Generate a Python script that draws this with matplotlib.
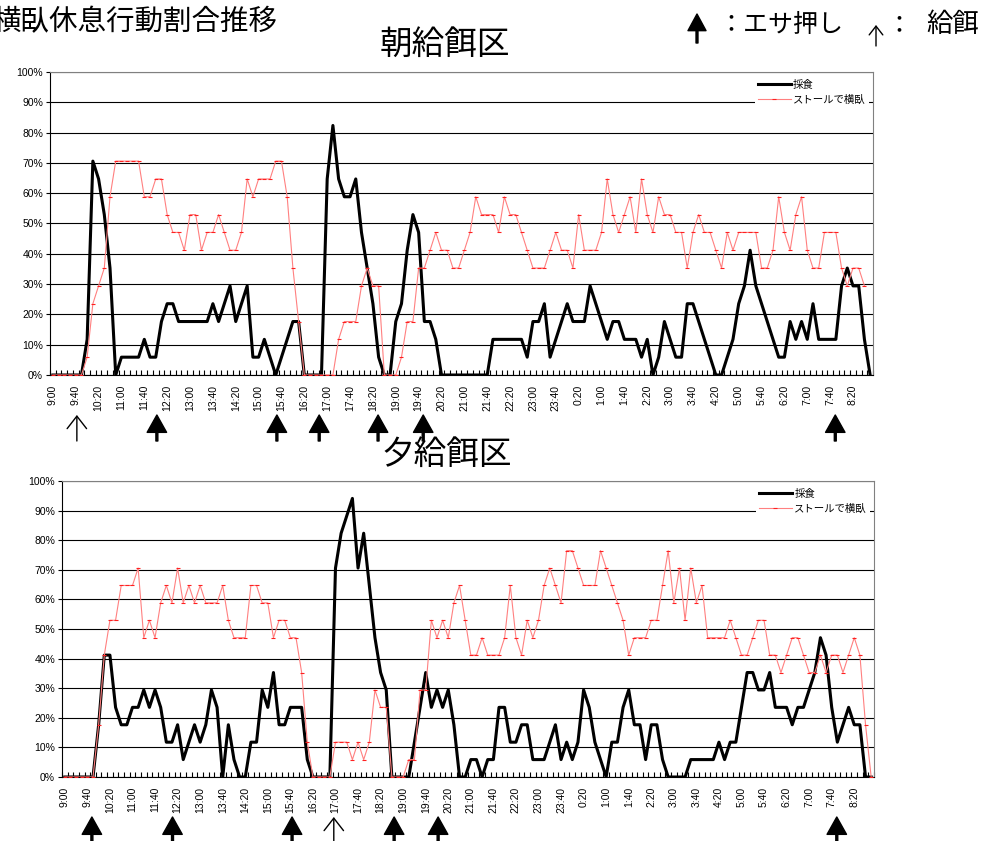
import numpy as np
import matplotlib.pyplot as plt

plt.rcParams['font.family'] = ['Liberation Sans', 'Noto Sans CJK JP']

# number of cows observed per pen (values below are head counts out of this)
N_COWS = 17

# x tick labels, one every 4 slots of 10 minutes (9:00 -> 8:50 next day, 144 slots)
time_labels = ['9:00', '9:40', '10:20', '11:00', '11:40', '12:20', '13:00', '13:40',
               '14:20', '15:00', '15:40', '16:20', '17:00', '17:40', '18:20', '19:00',
               '19:40', '20:20', '21:00', '21:40', '22:20', '23:00', '23:40', '0:20',
               '1:00', '1:40', '2:20', '3:00', '3:40', '4:20', '5:00', '5:40',
               '6:20', '7:00', '7:40', '8:20']

# morning feeding pen (head counts)
asa_feed = [0, 0, 0, 0, 0, 0, 2, 12, 11, 9, 6, 0,
            1, 1, 1, 1, 2, 1, 1, 3, 4, 4, 3, 3,
            3, 3, 3, 3, 4, 3, 4, 5, 3, 4, 5, 1,
            1, 2, 1, 0, 1, 2, 3, 3, 0, 0, 0, 0,
            11, 14, 11, 10, 10, 11, 8, 6, 4, 1, 0, 0,
            3, 4, 7, 9, 8, 3, 3, 2, 0, 0, 0, 0,
            0, 0, 0, 0, 0, 2, 2, 2, 2, 2, 2, 1,
            3, 3, 4, 1, 2, 3, 4, 3, 3, 3, 5, 4,
            3, 2, 3, 3, 2, 2, 2, 1, 2, 0, 1, 3,
            2, 1, 1, 4, 4, 3, 2, 1, 0, 0, 1, 2,
            4, 5, 7, 5, 4, 3, 2, 1, 1, 3, 2, 3,
            2, 4, 2, 2, 2, 2, 5, 6, 5, 5, 2, 0]
asa_stall = [0, 0, 0, 0, 0, 0, 1, 4, 5, 6, 10, 12,
             12, 12, 12, 12, 10, 10, 11, 11, 9, 8, 8, 7,
             9, 9, 7, 8, 8, 9, 8, 7, 7, 8, 11, 10,
             11, 11, 11, 12, 12, 10, 6, 3, 0, 0, 0, 0,
             0, 0, 2, 3, 3, 3, 5, 6, 5, 5, 0, 0,
             0, 1, 3, 3, 6, 6, 7, 8, 7, 7, 6, 6,
             7, 8, 10, 9, 9, 9, 8, 10, 9, 9, 8, 7,
             6, 6, 6, 7, 8, 7, 7, 6, 9, 7, 7, 7,
             8, 11, 9, 8, 9, 10, 8, 11, 9, 8, 10, 9,
             9, 8, 8, 6, 8, 9, 8, 8, 7, 6, 8, 7,
             8, 8, 8, 8, 6, 6, 7, 10, 8, 7, 9, 10,
             7, 6, 6, 8, 8, 8, 6, 5, 6, 6, 5, np.nan]

# evening feeding pen (head counts)
yu_feed = [0, 0, 0, 0, 0, 0, 3, 7, 7, 4, 3, 3,
           4, 4, 5, 4, 5, 4, 2, 2, 3, 1, 2, 3,
           2, 3, 5, 4, 0, 3, 1, 0, 0, 2, 2, 5,
           4, 6, 3, 3, 4, 4, 4, 1, 0, 0, 0, 0,
           12, 14, 15, 16, 12, 14, 11, 8, 6, 5, 0, 0,
           0, 0, 2, 4, 6, 4, 5, 4, 5, 3, 0, 0,
           1, 1, 0, 1, 1, 4, 4, 2, 2, 3, 3, 1,
           1, 1, 2, 3, 1, 2, 1, 2, 5, 4, 2, 1,
           0, 2, 2, 4, 5, 3, 3, 1, 3, 3, 1, 0,
           0, 0, 0, 1, 1, 1, 1, 1, 2, 1, 2, 2,
           4, 6, 6, 5, 5, 6, 4, 4, 4, 3, 4, 4,
           5, 6, 8, 7, 4, 2, 3, 4, 3, 3, 0, 0]
yu_stall = [0, 0, 0, 0, 0, 0, 3, 7, 9, 9, 11, 11,
            11, 12, 8, 9, 8, 10, 11, 10, 12, 10, 11, 10,
            11, 10, 10, 10, 11, 9, 8, 8, 8, 11, 11, 10,
            10, 8, 9, 9, 8, 8, 6, 2, 0, 0, 0, 0,
            2, 2, 2, 1, 2, 1, 2, 5, 4, 4, 0, 0,
            0, 1, 1, 5, 5, 9, 8, 9, 8, 10, 11, 9,
            7, 7, 8, 7, 7, 7, 8, 11, 8, 7, 9, 8,
            9, 11, 12, 11, 10, 13, 13, 12, 11, 11, 11, 13,
            12, 11, 10, 9, 7, 8, 8, 8, 9, 9, 11, 13,
            10, 12, 9, 12, 10, 11, 8, 8, 8, 8, 9, 8,
            7, 7, 8, 9, 9, 7, 7, 6, 7, 8, 8, 7,
            6, 6, 7, 6, 7, 7, 6, 7, 8, 7, 3, 0]

# event times (slot index): feed pushing (filled arrows) and feeding (open arrows)
asa_push = [18.2, 39.2, 46.6, 56.9, 64.8, 136.9]
asa_give = [4.2]
yu_push = [4.8, 19.1, 40.3, 58.4, 66.2, 136.9]
yu_give = [47.7]

W, H = 995, 841
fig = plt.figure(figsize=(W / 100, H / 100), dpi=100)

FILLED = dict(facecolor='black', edgecolor='black', width=1.4,
              headwidth=14, headlength=12.5, shrink=0)
OPEN = dict(arrowstyle='->,head_length=0.45,head_width=0.35',
            mutation_scale=20, color='black', lw=1.0, shrinkA=0, shrinkB=0)


def fpos(x, y):
    # pixel position from top-left -> figure fraction
    return x / W, 1 - y / H


def draw_panel(ax, feed, stall, push, give, y_tip, y_end):
    x = np.arange(len(feed))
    feed_pct = np.array(feed, dtype=float) / N_COWS * 100
    stall_pct = np.array(stall, dtype=float) / N_COWS * 100

    ax.plot(x, feed_pct, color='black', lw=2.2, label='採食', zorder=3)
    ax.plot(x, stall_pct, color='#ff8080', lw=0.8, marker='_', ms=3.5,
            mec='#ff2020', mew=0.8, label='ストールで横臥', zorder=4)

    ax.set_xlim(-0.5, len(feed) - 0.5)
    ax.set_ylim(0, 100)
    ax.set_yticks(range(0, 101, 10))
    ax.set_yticklabels([f'{v}%' for v in range(0, 101, 10)], fontsize=7.5)
    ax.yaxis.grid(True, color='black', lw=0.8)
    ax.set_axisbelow(True)

    ax.set_xticks(range(0, len(feed), 4))
    ax.set_xticklabels(time_labels, rotation=90, fontsize=7.5)
    ax.set_xticks(np.arange(-0.5, len(feed), 1), minor=True)
    ax.tick_params(axis='x', which='major', length=0, pad=7)
    ax.tick_params(axis='x', which='minor', direction='in', length=3.5, width=0.8)
    ax.tick_params(axis='y', direction='out', length=3, width=0.8, pad=2)

    for s in ['top', 'right']:
        ax.spines[s].set_color('#808080')

    ax.legend(loc='upper right', bbox_to_anchor=(0.995, 0.985), fontsize=7.5,
              frameon=True, fancybox=False, edgecolor='none', framealpha=1,
              borderpad=0.3, handlelength=3.2, handletextpad=0.2,
              labelspacing=0.45, borderaxespad=0)

    coords = ('data', 'figure pixels')
    for t in push:
        ax.annotate('', xy=(t, y_tip), xytext=(t, y_end), xycoords=coords,
                    textcoords=coords, annotation_clip=False, arrowprops=FILLED)
    for t in give:
        ax.annotate('', xy=(t, y_tip), xytext=(t, y_end), xycoords=coords,
                    textcoords=coords, annotation_clip=False, arrowprops=OPEN)


ax1 = fig.add_axes([50 / W, 1 - 375 / H, 823 / W, 303 / H])
ax2 = fig.add_axes([62 / W, 1 - 777 / H, 812 / W, 296 / H])

draw_panel(ax1, asa_feed, asa_stall, asa_push, asa_give, H - 415, H - 441)
draw_panel(ax2, yu_feed, yu_stall, yu_push, yu_give, H - 817, H - 850)

# titles
fig.text(*fpos(-8, 23), '横臥休息行動割合推移', fontsize=20.5, ha='left', va='center')
fig.text(*fpos(445, 45), '朝給餌区', fontsize=23.5, ha='center', va='center')
fig.text(*fpos(447, 455), '夕給餌区', fontsize=23.5, ha='center', va='center')

# key for the arrows
fig.text(*fpos(718, 25), '：エサ押し', fontsize=18, ha='left', va='center')
fig.text(*fpos(886, 25), '：', fontsize=18, ha='left', va='center')
fig.text(*fpos(926, 25), '給餌', fontsize=19, ha='left', va='center')
fig.axes[0].annotate('', xy=(697, H - 14), xytext=(697, H - 43),
                     xycoords='figure pixels', textcoords='figure pixels',
                     annotation_clip=False,
                     arrowprops=dict(FILLED, headwidth=13, headlength=12))
fig.axes[0].annotate('', xy=(876, H - 25), xytext=(876, H - 46),
                     xycoords='figure pixels', textcoords='figure pixels',
                     annotation_clip=False,
                     arrowprops=dict(OPEN, mutation_scale=14))

fig.savefig('out.png', dpi=100)
